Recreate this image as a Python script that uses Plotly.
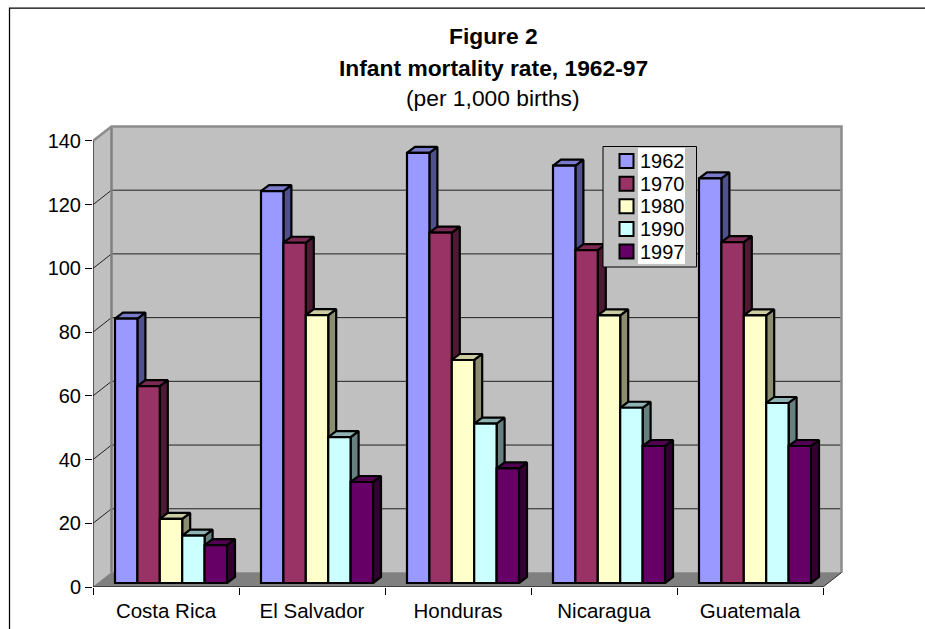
import plotly.graph_objects as go

categories = ["Costa Rica", "El Salvador", "Honduras", "Nicaragua", "Guatemala"]
years = ["1962", "1970", "1980", "1990", "1997"]
v1962 = [83, 123, 135, 131, 127]
v1970 = [61.8, 106.8, 110, 104.5, 107]
v1980 = [20.1, 84.1, 70, 84, 84]
v1990 = [14.9, 45.8, 50, 55, 56.5]
v1997 = [11.9, 31.7, 36, 43, 43]
series = [v1962, v1970, v1980, v1990, v1997]
front_colors = ["#9999FF", "#993366", "#FFFFCC", "#CCFFFF", "#660066"]
top_colors = ["#7A7ACC", "#7A2952", "#CCCCA3", "#8FB3B3", "#520052"]
side_colors = ["#50508C", "#4D1933", "#8C8C70", "#668080", "#330033"]

PX_X = 146.0      # pixels per category
PX_Y = 3.186      # pixels per value unit
ML, PLOT_R, PLOT_T, PLOT_B = 93, 848, 122, 587
W, H = 925, 629
xrange_ = [0, (PLOT_R - ML) / PX_X]
yrange_ = [0, (PLOT_B - PLOT_T) / PX_Y]

DX, DY = 18.5 / PX_X, 14.5 / PX_Y           # chart depth
BX, BY = 5 / PX_X, 4 / PX_Y                 # bar front plane inset
BDX, BDY = 8 / PX_X, 6 / PX_Y               # bar depth
BW = 22.4 / PX_X
GAP = 17 / PX_X
N = len(categories)
YTICKS = list(range(0, 141, 20))

fig = go.Figure()


def poly(xs, ys, fill=None, line="#000000", width=1.0):
    closed = fill is not None
    fig.add_trace(go.Scatter(
        x=xs + xs[:1] if closed else xs, y=ys + ys[:1] if closed else ys,
        mode="lines", fill="toself" if closed else "none",
        fillcolor=fill, line=dict(color=line, width=width),
        hoverinfo="skip", showlegend=False, cliponaxis=False))


# walls and floor
poly([0, DX, DX, 0], [0, DY, 140 + DY, 140], "#C0C0C0", "#808080", 0.5)
poly([DX, N + DX, N + DX, DX], [DY, DY, 140 + DY, 140 + DY], "#C0C0C0", "#C0C0C0", 0.5)
poly([0, N, N + DX, DX], [0, 0, DY, DY], "#808080", "#808080", 0.5)
# gridlines
for t in YTICKS[1:-1]:
    poly([0, DX, N + DX], [t, t + DY, t + DY], None, "#222222", 1)
# wall borders
poly([DX, DX], [DY, 140 + DY], None, "#808080", 2.5)
poly([0, DX, N + DX, N + DX], [140, 140 + DY, 140 + DY, DY], None, "#8C8C8C", 2.5)
poly([N, N + DX], [0, DY], None, "#333333", 1)
poly([0, 0], [0, 140], None, "#000000", 1)
poly([0, N], [0, 0], None, "#000000", 1)

# bar tops and sides
for i in range(N):
    for k, vals in enumerate(series):
        x0 = i + GAP + BX + k * BW
        x1 = x0 + BW
        v = vals[i] + BY
        poly([x1, x1 + BDX, x1 + BDX, x1], [BY, BY + BDY, v + BDY, v], side_colors[k], "#000000", 2.2)
        poly([x0, x0 + BDX, x1 + BDX, x1], [v, v + BDY, v + BDY, v], top_colors[k], "#000000", 2.2)

# bar fronts on an overlaid subplot, so they cover the neighbours' sides
for k, vals in enumerate(series):
    fig.add_trace(go.Bar(
        x=[i + GAP + BX + (k + 0.5) * BW for i in range(N)], y=vals, base=BY, width=BW,
        name=years[k], marker=dict(color=front_colors[k], line=dict(color="#000000", width=2.2)),
        xaxis="x2", yaxis="y2", showlegend=False, hovertemplate="%{y}<extra>" + years[k] + "</extra>",
        cliponaxis=False))

FONT = "Liberation Sans, Arial, sans-serif"
shapes = []
annotations = []


def px(x):
    return (x - ML) / (PLOT_R - ML)


def py(y):
    return (PLOT_B - y) / (PLOT_B - PLOT_T)


def rect(x0, y0, x1, y1, fill, line, lw):
    shapes.append(dict(type="rect", xref="paper", yref="paper", x0=px(x0), x1=px(x1),
                       y0=py(y1), y1=py(y0), fillcolor=fill, line=dict(color=line, width=lw)))


# outer frame: its right and bottom edges lie outside the picture
rect(9.5, 8, 960, 660, "rgba(0,0,0,0)", "#000000", 1.25)
# legend
rect(603, 146.5, 696.5, 267, "#C0C0C0", "#000000", 1)
rect(638, 148, 685, 264, "#FFFFFF", "#FFFFFF", 0)
for k, yr in enumerate(years):
    yc = 161 + k * 22.65
    rect(619.5, yc - 7, 633.5, yc + 7, front_colors[k], "#000000", 2)
    annotations.append(dict(xref="paper", yref="paper", x=px(638.5), y=py(yc), text=yr, showarrow=False,
                            xanchor="left", yanchor="middle", borderpad=0,
                            font=dict(family=FONT, size=20, color="#000000")))
# title
for txt, yc in [("<b>Figure 2</b>", 36), ("<b>Infant mortality rate, 1962-97</b>", 68), ("(per 1,000 births)", 98)]:
    annotations.append(dict(xref="paper", yref="paper", x=px(493), y=py(yc), text=txt, showarrow=False,
                            xanchor="center", yanchor="middle", borderpad=0,
                            font=dict(family=FONT, size=22.8, color="#000000")))

fig.update_layout(
    width=W, height=H, autosize=False, template="none", paper_bgcolor="#FFFFFF", plot_bgcolor="rgba(0,0,0,0)",
    margin=dict(l=ML, r=W - PLOT_R, t=PLOT_T, b=H - PLOT_B, pad=0),
    barmode="overlay", showlegend=False, shapes=shapes, annotations=annotations,
    font=dict(family=FONT, size=20, color="#000000"),
    xaxis=dict(range=xrange_, tickmode="array", tickvals=list(range(N + 1)), ticktext=[""] * (N + 1),
               ticks="outside", ticklen=7, tickwidth=1, tickcolor="#000000", showgrid=False,
               zeroline=False, showline=False, fixedrange=True, automargin=False),
    xaxis2=dict(range=xrange_, overlaying="x", anchor="y2", side="bottom", tickmode="array",
                tickvals=[i + 0.5 for i in range(N)], ticktext=categories, ticks="outside", ticklen=5,
                tickwidth=0, tickcolor="rgba(0,0,0,0)", showgrid=False, zeroline=False, showline=False,
                fixedrange=True, automargin=False, tickfont=dict(family=FONT, size=20.5, color="#000000")),
    yaxis=dict(range=yrange_, tickmode="array", tickvals=YTICKS, ticks="outside", ticklen=7, tickwidth=1,
               tickcolor="#000000", showgrid=False, zeroline=False, showline=False, fixedrange=True,
               automargin=False, tickfont=dict(family=FONT, size=20, color="#000000")),
    yaxis2=dict(range=yrange_, overlaying="y", anchor="x2", visible=False, fixedrange=True),
)

fig.write_html("out.html", config={"displayModeBar": False},
               post_script="document.body.style.margin='0';document.body.style.overflow='hidden';")
